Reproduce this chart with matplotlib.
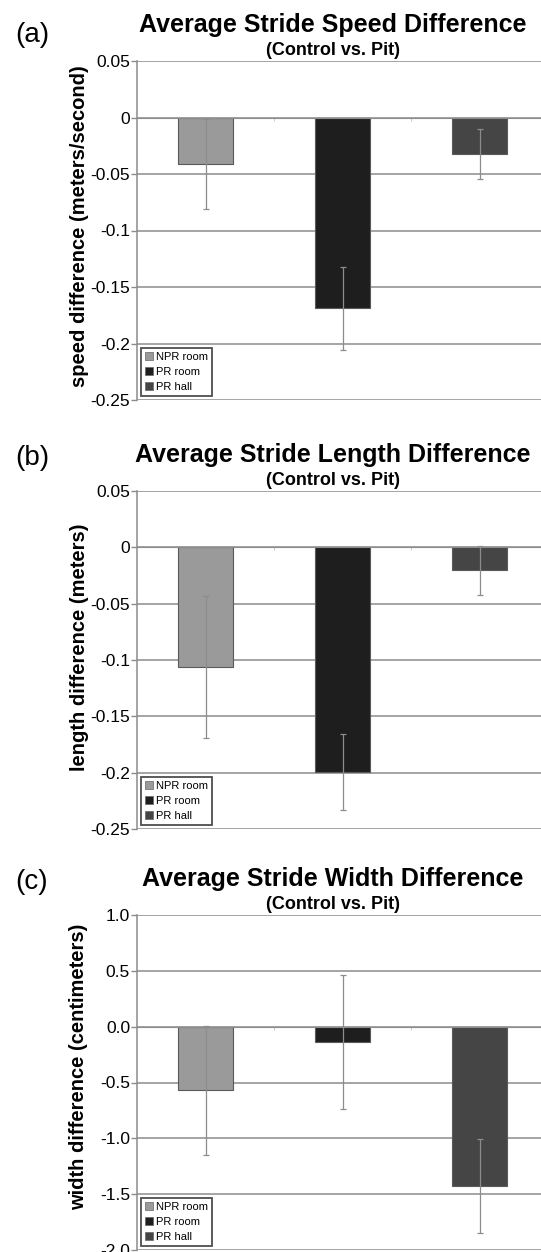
import matplotlib
matplotlib.use("Agg")
import matplotlib.pyplot as plt
from matplotlib.patches import Patch

plt.rcParams['font.family'] = ['Liberation Sans', 'DejaVu Sans']

categories = ["NPR room", "PR room", "PR hall"]
bar_colors = ["#9a9a9a", "#1e1e1e", "#454545"]

speed_mean = [-0.041, -0.169, -0.0325]
speed_err = [0.040, 0.037, 0.022]

length_mean = [-0.106, -0.1995, -0.0205]
length_err = [0.063, 0.034, 0.022]

width_mean = [-0.571, -0.135, -1.424]
width_err = [0.58, 0.60, 0.42]

titles = ["Average Stride Speed Difference",
          "Average Stride Length Difference",
          "Average Stride Width Difference"]
subtitle = "(Control vs. Pit)"
panel_labels = ["(a)", "(b)", "(c)"]
ylabels = ["speed difference (meters/second)",
           "length difference (meters)",
           "width difference (centimeters)"]
yticks_ab = [0.05, 0, -0.05, -0.1, -0.15, -0.2, -0.25]
ytick_labels_ab = ["0.05", "0", "-0.05", "-0.1", "-0.15", "-0.2", "-0.25"]
yticks_c = [1.0, 0.5, 0.0, -0.5, -1.0, -1.5, -2.0]
ytick_labels_c = ["1.0", "0.5", "0.0", "-0.5", "-1.0", "-1.5", "-2.0"]

W, H = 541, 1252
fig = plt.figure(figsize=(W / 100, H / 100), dpi=100)

# (top px, bottom px, panel label y px, ylabel frac)
layout = [(61, 400, 35, 0.513), (491, 829, 458, 0.538), (915, 1250, 882, 0.546)]
left_px, width_px = 137, 411
datasets = [(speed_mean, speed_err, yticks_ab, ytick_labels_ab),
            (length_mean, length_err, yticks_ab, ytick_labels_ab),
            (width_mean, width_err, yticks_c, ytick_labels_c)]

grid_c = "#8c8c8c"
for i, ((top, bot, lab_y, ylab_frac), (mean, err, yt, ytl)) in enumerate(zip(layout, datasets)):
    ax = fig.add_axes([left_px / W, 1 - bot / H, width_px / W, (bot - top) / H])
    x = list(range(len(categories)))
    ax.set_xlim(-0.5, 2.5)
    ax.set_ylim(yt[-1], yt[0])
    for yv in yt:
        ax.axhline(yv, color=grid_c, lw=1.1, zorder=1)
    ax.bar(x, mean, width=0.4, color=bar_colors, edgecolor="#5a5a5a",
           linewidth=0.8, zorder=2)
    ax.errorbar(x, mean, yerr=err, fmt="none", ecolor="#8c8c8c",
                elinewidth=0.9, capsize=2.5, capthick=0.9, zorder=3)
    ax.set_yticks(yt)
    ax.set_yticklabels(ytl, fontsize=12.5)
    ax.tick_params(axis='y', length=4, width=1, color=grid_c, pad=1)
    # category axis at zero
    ax.spines['bottom'].set_position(('data', 0))
    ax.spines['bottom'].set_color(grid_c)
    ax.set_xticks([0.5, 1.5])
    ax.set_xticklabels([])
    ax.tick_params(axis='x', length=2.5, width=0.6, color="#c0c0c0", direction='out')
    for s in ['top', 'right']:
        ax.spines[s].set_visible(False)
    ax.spines['left'].set_color(grid_c)
    ax.spines['left'].set_linewidth(1.1)
    ax.set_ylabel(ylabels[i], fontsize=14.5, fontweight='bold')
    ax.yaxis.set_label_coords(-0.118, ylab_frac)

    handles = [Patch(facecolor=c, edgecolor="#666666", linewidth=0.5) for c in bar_colors]
    leg = ax.legend(handles, categories, loc='lower left', bbox_to_anchor=(0.0, 0.0),
                    fontsize=8, frameon=True, fancybox=False, handlelength=0.7,
                    handleheight=0.7, handletextpad=0.3, borderpad=0.35,
                    labelspacing=0.45, borderaxespad=0.4)
    leg.get_frame().set_edgecolor("#222222")
    leg.get_frame().set_linewidth(1.3)
    leg.set_zorder(5)

    cx = (left_px + width_px / 2 - 10) / W
    fig.text(cx, 1 - (top - 29) / H, titles[i], ha='center', va='baseline',
             fontsize=18, fontweight='bold')
    fig.text(cx, 1 - (top - 6) / H, subtitle, ha='center', va='baseline',
             fontsize=13, fontweight='bold')
    fig.text(15 / W, 1 - lab_y / H, panel_labels[i], ha='left', va='center',
             fontsize=20)

fig.savefig("out.png", dpi=100, facecolor='white')
